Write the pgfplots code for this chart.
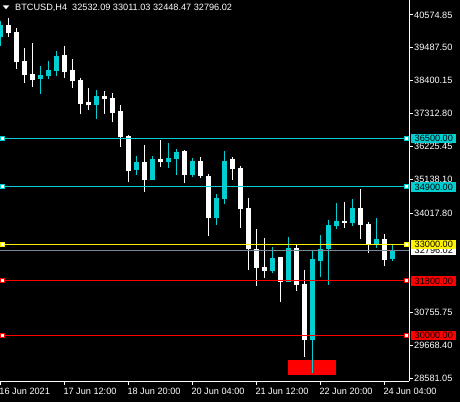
\documentclass[border=0pt]{standalone}
\usepackage{pgfplots}
\pgfplotsset{compat=1.18}
\usepackage{pgfplotstable}
\usepackage{fontspec}
\setmainfont{Liberation Sans}
\definecolor{cyanc}{RGB}{0,206,209}
\definecolor{greyl}{RGB}{119,136,153}
\newcommand\lblfont{\fontsize{9.2}{10}\selectfont}

% bullish candles (cyan)
\pgfplotstableread{
n O H L C
0 39834 40382 39557 40240
5 38458 38887 37973 38590
6 38567 39052 38458 38755
7 38722 39382 38557 39217
12 37600 38095 37138 37897
17 35465 35917 35300 35719
19 35135 35917 35135 35818
21 35719 36346 35531 35851
22 35818 36148 35300 36049
24 35300 35851 35234 35752
27 33881 34663 33650 34531
28 34508 36082 34343 35752
34 32122 32914 32056 32551
36 31759 33244 31759 32881
39 29845 32815 28756 32518
40 32452 33310 31924 32848
41 32848 33805 31660 33640
42 33607 34366 33508 33772
44 33706 34498 33607 34201
47 33013 33871 32881 33178
49 32532.09 33011.03 32448.47 32796.02
}\bull

% bearish candles (white)
\pgfplotstableread{
n O H L C
1 40240 40461 39834 39986
2 40009 40131 38788 39029
3 39052 39471 38336 38600
4 38623 39636 38204 38435
8 39250 39547 38501 38699
9 38755 39118 38171 38402
10 38425 38481 37313 37633
11 37699 38171 37445 37610
13 37897 38072 37313 37808
14 37831 37996 37029 37346
15 37402 37600 36224 36554
16 36577 36610 35069 35432
18 35719 36280 34739 35135
20 35818 36445 35564 35719
23 36082 36115 35036 35300
25 35752 35884 35201 35267
26 35257 35323 33287 33881
29 35818 35894 35125 35488
30 35521 35587 33541 34168
31 34201 34531 32155 32848
32 32848 33508 31627 32221
33 32254 33211 31891 32122
35 32584 32584 31099 31759
37 32881 32980 31462 31660
38 31693 32155 29284 29845
43 33772 34399 33541 33706
45 34201 34828 33178 33640
46 33673 33739 32716 33013
48 33178 33343 32287 32485
}\bear

\begin{document}
\begin{tikzpicture}[x=1bp,y=1bp]
\fill[black] (0,0) rectangle (460,402);
\coordinate (A) at (0,21);
\begin{axis}[
  at={(A)}, anchor=south west,
  width=409bp, height=381bp, scale only axis,
  xmin=-0.0375, xmax=51.0875, ymin=28492, ymax=41065,
  axis x line*=bottom, axis y line*=right,
  axis line style={white, line width=1bp, -},
  tick style={white, line width=1bp},
  tick align=outside, major tick length=3.5bp,
  scaled y ticks=false, scaled x ticks=false,
  xtick={0,8,16,24,32,40,48},
  xticklabels={16 Jun 2021,17 Jun 12:00,18 Jun 20:00,20 Jun 04:00,21 Jun 12:00,22 Jun 20:00,24 Jun 04:00},
  xticklabel style={anchor=base west, text=white, font=\lblfont, inner sep=0pt, xshift=-1bp, yshift=-10bp},
  ytick={40574.85,39487.50,38400.15,37312.80,36225.45,35138.10,34017.80,30755.75,29668.40,28581.05},
  yticklabels={40574.85,39487.50,38400.15,37312.80,36225.45,35138.10,34017.80,30755.75,29668.40,28581.05},
  yticklabel style={anchor=west, text=white, font=\lblfont, inner xsep=1.5bp},
  clip=true,
]
% background object
\addplot[fill=red, draw=none] coordinates {(35.96,29185) (41.96,29185) (41.96,28690) (35.96,28690)} -- cycle;
% wicks
\addplot[draw=none, mark=none, error bars/.cd, y dir=both, y explicit, error mark=none,
  error bar style={draw=cyanc, line width=1bp}]
  table[x=n, y expr={(\thisrow{H}+\thisrow{L})/2}, y error expr={(\thisrow{H}-\thisrow{L})/2}] {\bull};
\addplot[draw=none, mark=none, error bars/.cd, y dir=both, y explicit, error mark=none,
  error bar style={draw=white, line width=1bp}]
  table[x=n, y expr={(\thisrow{H}+\thisrow{L})/2}, y error expr={(\thisrow{H}-\thisrow{L})/2}] {\bear};
% bodies
\addplot[draw=none, mark=none, error bars/.cd, y dir=both, y explicit, error mark=none,
  error bar style={draw=cyanc, line width=5bp}]
  table[x=n, y expr={(\thisrow{O}+\thisrow{C})/2}, y error expr={max(abs(\thisrow{O}-\thisrow{C})/2,16)}] {\bull};
\addplot[draw=none, mark=none, error bars/.cd, y dir=both, y explicit, error mark=none,
  error bar style={draw=white, line width=5bp}]
  table[x=n, y expr={(\thisrow{O}+\thisrow{C})/2}, y error expr={max(abs(\thisrow{O}-\thisrow{C})/2,16)}] {\bear};
% horizontal levels
\addplot[greyl, line width=1bp] coordinates {(-1,32796.02) (52,32796.02)};
\addplot[cyanc, line width=1bp] coordinates {(-1,36500) (52,36500)};
\addplot[cyanc, line width=1bp] coordinates {(-1,34900) (52,34900)};
\addplot[yellow, line width=1bp] coordinates {(-1,33000) (52,33000)};
\addplot[red, line width=1bp] coordinates {(-1,31800) (52,31800)};
\addplot[red, line width=1bp] coordinates {(-1,30000) (52,30000)};
\addplot[only marks, mark=square*, mark size=2bp, mark options={fill=white, draw=cyanc, line width=1bp}]
  coordinates {(0.25,36500) (50.8,36500) (0.25,34900) (50.8,34900)};
\addplot[only marks, mark=square*, mark size=2bp, mark options={fill=white, draw=yellow, line width=1bp}]
  coordinates {(0.25,33000) (50.8,33000)};
\addplot[only marks, mark=square*, mark size=2bp, mark options={fill=white, draw=red, line width=1bp}]
  coordinates {(0.25,31800) (50.8,31800) (0.25,30000) (50.8,30000)};
\coordinate (Lp) at (axis cs:51.0875,32796.02);
\coordinate (La) at (axis cs:51.0875,36500);
\coordinate (Lb) at (axis cs:51.0875,34900);
\coordinate (Lc) at (axis cs:51.0875,33000);
\coordinate (Ld) at (axis cs:51.0875,31800);
\coordinate (Le) at (axis cs:51.0875,30000);
\end{axis}
\tikzset{lvl/.style={anchor=west, text=black, font=\lblfont, inner xsep=3.5bp, inner ysep=1.4bp, text height=6.8bp, text depth=0pt}}
\node[lvl, fill=white] at ([xshift=2bp]Lp) {32796.02};
\node[lvl, fill=cyanc] at ([xshift=2bp]La) {36500.00};
\node[lvl, fill=cyanc] at ([xshift=2bp]Lb) {34900.00};
\node[lvl, fill=yellow] at ([xshift=2bp]Lc) {33000.00};
\node[lvl, fill=red] at ([xshift=2bp]Ld) {31800.00};
\node[lvl, fill=red] at ([xshift=2bp]Le) {30000.00};
% title
\fill[white] (2.7,396.7) -- (9.3,396.7) -- (6,392.7) -- cycle;
\node[anchor=base west, text=white, font=\lblfont, inner sep=0pt] at (15,391.5) {BTCUSD,H4\ \ 32532.09 33011.03 32448.47 32796.02};
\pgfresetboundingbox
\useasboundingbox (0,0) rectangle (460,402);
\end{tikzpicture}
\end{document}
